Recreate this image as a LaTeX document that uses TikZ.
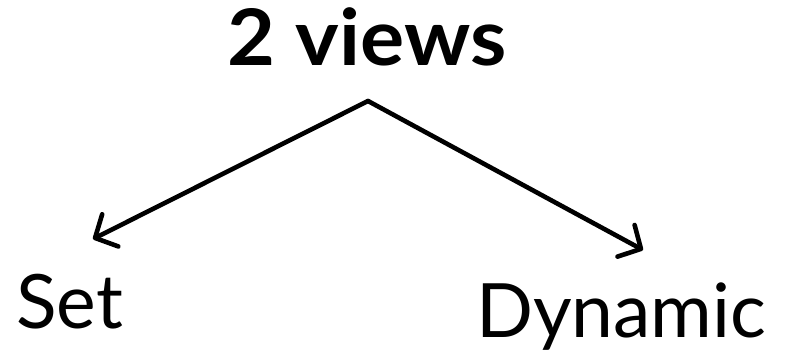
\documentclass[tikz,border=0pt]{standalone}
\usepackage{fontspec}
\setmainfont{Lato}
\usepackage{tikz}
\usetikzlibrary{arrows.meta}
\tikzset{
  vwhead/.style={inner sep=0pt, anchor=base, font=\fontsize{78}{84}\selectfont\bfseries},
  vwleaf/.style={inner sep=0pt, anchor=base west, font=\fontsize{75}{80}\selectfont},
  vwarrow/.style={line width=4.6pt, line cap=round, line join=round,
    -{Straight Barb[length=17pt, width=36pt, round]}},
}
\begin{document}
\begin{tikzpicture}[x=1pt, y=-1pt]
\useasboundingbox (0,0) rectangle (785,360);
\node[vwhead] (views) at (367,65) {\scalebox{1.06}[1]{2 views}};
\node[vwleaf] (set) at (16,328) {Set};
\node[vwleaf] (dynamic) at (476,337) {Dynamic};
\coordinate (apex) at (368,101);
\coordinate (settip) at (93,239);
\coordinate (dyntip) at (643,250);
\draw[vwarrow] (apex) -- (settip);
\draw[vwarrow] (apex) -- (dyntip);
\end{tikzpicture}
\end{document}
